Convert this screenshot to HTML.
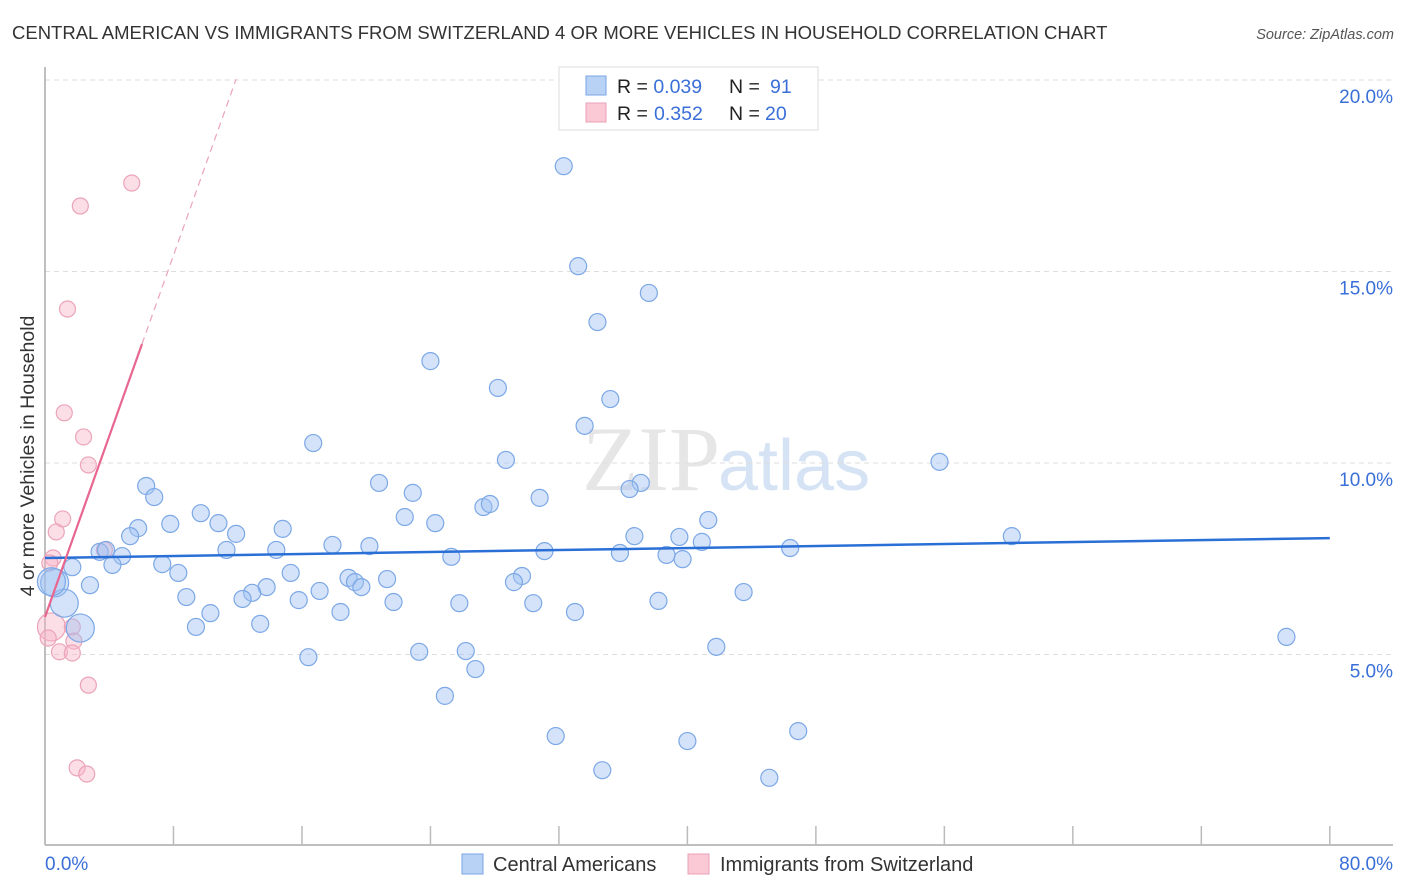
<!DOCTYPE html>
<html><head><meta charset="utf-8"><style>
body{margin:0;background:#fff;font-family:"Liberation Sans",sans-serif}
svg{display:block}
</style></head><body>
<svg id="chart" width="1406" height="892" xmlns="http://www.w3.org/2000/svg">
<text x="12" y="39" font-size="18.5" fill="#333">CENTRAL AMERICAN VS IMMIGRANTS FROM SWITZERLAND 4 OR MORE VEHICLES IN HOUSEHOLD CORRELATION CHART</text>
<text x="1394" y="39" font-size="14.5" fill="#555" font-style="italic" text-anchor="end">Source: ZipAtlas.com</text>
<text x="720" y="490" font-size="92" fill="#e6e6e6" text-anchor="end" font-family="Liberation Serif,serif">ZIP</text>
<text x="718" y="490" font-size="72" fill="#d5e3f5">atlas</text>
<g id="grid"></g>
<g id="axes"></g>
<g id="marks"></g>
<text transform="translate(34,456) rotate(-90)" font-size="19.5" fill="#333" text-anchor="middle">4 or more Vehicles in Household</text>
<g>
<rect x="559" y="67" width="259" height="63" fill="#fff" stroke="#ddd"/>
<rect x="586" y="76" width="20" height="19" fill="#b8d2f6" stroke="#7aa5e4"/>
<rect x="586" y="103" width="20" height="19" fill="#fbc8d6" stroke="#eaa0b6"/>
<text x="617" y="93" font-size="19.5" fill="#222">R = <tspan fill="#3a6fd8">0.039</tspan><tspan x="729">N =  </tspan><tspan fill="#3a6fd8" x="770">91</tspan></text>
<text x="617" y="120" font-size="19.5" fill="#222">R = <tspan fill="#3a6fd8" x="654">0.352</tspan><tspan x="729">N = </tspan><tspan fill="#3a6fd8" x="765">20</tspan></text>
</g>
<g>
<rect x="462" y="854" width="21" height="20" fill="#b8d2f6" stroke="#7aa5e4"/>
<text x="493" y="871" font-size="20" fill="#333">Central Americans</text>
<rect x="688" y="854" width="21" height="20" fill="#fbc8d6" stroke="#eaa0b6"/>
<text x="720" y="871" font-size="20" fill="#333">Immigrants from Switzerland</text>
</g>
</svg>
<script>
const yTicks=[5,10,15,20];
const yTickLabels=["5.0%","10.0%","15.0%","20.0%"];
const xTickLabels=["0.0%","80.0%"];
const blueX=[32.3,33.2,37.6,34.4,24.0,28.2,35.2,33.6,16.7,28.7,55.7,6.3,20.8,6.8,22.9,37.1,36.4,30.8,27.3,27.7,9.7,22.4,10.8,24.3,41.3,7.8,5.8,14.8,5.3,11.9,36.7,60.2,39.5,40.9,17.9,20.2,46.4,31.1,11.3,14.4,3.4,3.8,4.8,25.3,35.8,38.7,39.7,4.2,7.3,1.7,15.3,8.3,29.7,18.9,19.3,21.3,29.2,19.7,2.8,13.8,0.6,12.9,17.1,43.5,8.8,12.3,15.8,21.7,25.8,30.4,38.2,1.2,10.3,18.4,33.0,13.4,9.4,2.2,77.3,41.8,26.2,23.3,16.4,26.8,24.9,46.9,31.8,40.0,34.7,45.1,0.4];
const blueY=[17.75,15.14,14.44,13.68,12.66,11.96,11.67,10.97,10.52,10.08,10.03,9.40,9.48,9.11,9.22,9.48,9.32,9.09,8.85,8.93,8.69,8.59,8.43,8.43,8.51,8.41,8.30,8.28,8.09,8.15,8.09,8.09,8.07,7.94,7.86,7.83,7.78,7.70,7.73,7.73,7.68,7.73,7.57,7.55,7.65,7.60,7.49,7.34,7.36,7.28,7.13,7.13,7.05,7.00,6.89,6.97,6.89,6.76,6.81,6.76,6.87,6.61,6.66,6.63,6.50,6.45,6.42,6.37,6.34,6.34,6.40,6.34,6.08,6.11,6.11,5.80,5.72,5.69,5.46,5.20,5.09,5.07,4.93,4.62,3.92,3.00,2.87,2.74,1.98,1.78,6.9];
const blueBig=[60,71,77,90];
const pinkX=[5.4,2.2,1.4,1.2,2.4,2.7,1.1,0.7,0.5,3.7,0.3,0.4,0.2,1.7,1.8,0.9,1.7,2.7,2.0,2.6];
const pinkY=[17.31,16.71,14.02,11.31,10.68,9.95,8.54,8.20,7.52,7.73,7.39,5.72,5.43,5.72,5.35,5.07,5.04,4.20,2.04,1.88];
const pinkBig=[11];
const blueTrend=[7.52,8.04];
const pinkTrend=[5.98,1.18];
const NS="http://www.w3.org/2000/svg";
const X=v=>45+v*16.06, Y=v=>846-v*38.3;
function mk(parent,tag,attrs){const e=document.createElementNS(NS,tag);for(const k in attrs)e.setAttribute(k,attrs[k]);document.getElementById(parent).appendChild(e);return e;}
yTicks.forEach((t,i)=>{
 let g=mk('grid','line',{x1:45,x2:1393,y1:Y(t),y2:Y(t),stroke:'#ddd','stroke-dasharray':'5,4'});
 
 
 let l=mk('axes','text',{x:1393,y:Y(t)+23,'font-size':19,fill:'#3a6fd8','text-anchor':'end'});
 l.textContent=yTickLabels[i];
 
 
});
let ax=mk('axes','line',{x1:45,x2:1393,y1:845,y2:845,stroke:'#aaa','stroke-width':1.5});


let ay=mk('axes','line',{x1:45,x2:45,y1:67,y2:845,stroke:'#aaa','stroke-width':1.5});


for(let i=1;i<=10;i++){let t=mk('axes','line',{x1:X(i*8),x2:X(i*8),y1:826,y2:845,stroke:'#bbb','stroke-width':1.5});
 
 }
let x0=mk('axes','text',{x:45,y:870,'font-size':19,fill:'#3a6fd8'});x0.textContent=xTickLabels[0];


let x1=mk('axes','text',{x:1393,y:870,'font-size':19,fill:'#3a6fd8','text-anchor':'end'});x1.textContent=xTickLabels[1];


pinkX.forEach((v,i)=>{const big=pinkBig.includes(i);
 let c=mk('marks','circle',{cx:X(v),cy:Y(pinkY[i]),r:big?14:8,fill:'rgba(248,182,202,0.45)',stroke:'#eba3b9','stroke-width':1.2});
 
 });
blueX.forEach((v,i)=>{const big=blueBig.includes(i);
 let c=mk('marks','circle',{cx:X(v),cy:Y(blueY[i]),r:big?14:8.5,fill:'rgba(160,193,242,0.45)',stroke:'#7ca8e6','stroke-width':1.2});
 
 });
let bt=mk('marks','line',{x1:X(0),x2:X(80),y1:Y(blueTrend[0]),y2:Y(blueTrend[1]),stroke:'#2a6fd6','stroke-width':2.5});


let pt=mk('marks','line',{x1:X(0),x2:X(6.04),y1:Y(pinkTrend[0]),y2:Y(pinkTrend[0]+pinkTrend[1]*6.04),stroke:'#e8668f','stroke-width':2.2});


let pd=mk('marks','line',{x1:X(6.04),x2:X(11.9),y1:Y(pinkTrend[0]+pinkTrend[1]*6.04),y2:Y(pinkTrend[0]+pinkTrend[1]*11.9),stroke:'#eba3b9','stroke-width':1.2,'stroke-dasharray':'7,5'});


</script>
</body></html>
